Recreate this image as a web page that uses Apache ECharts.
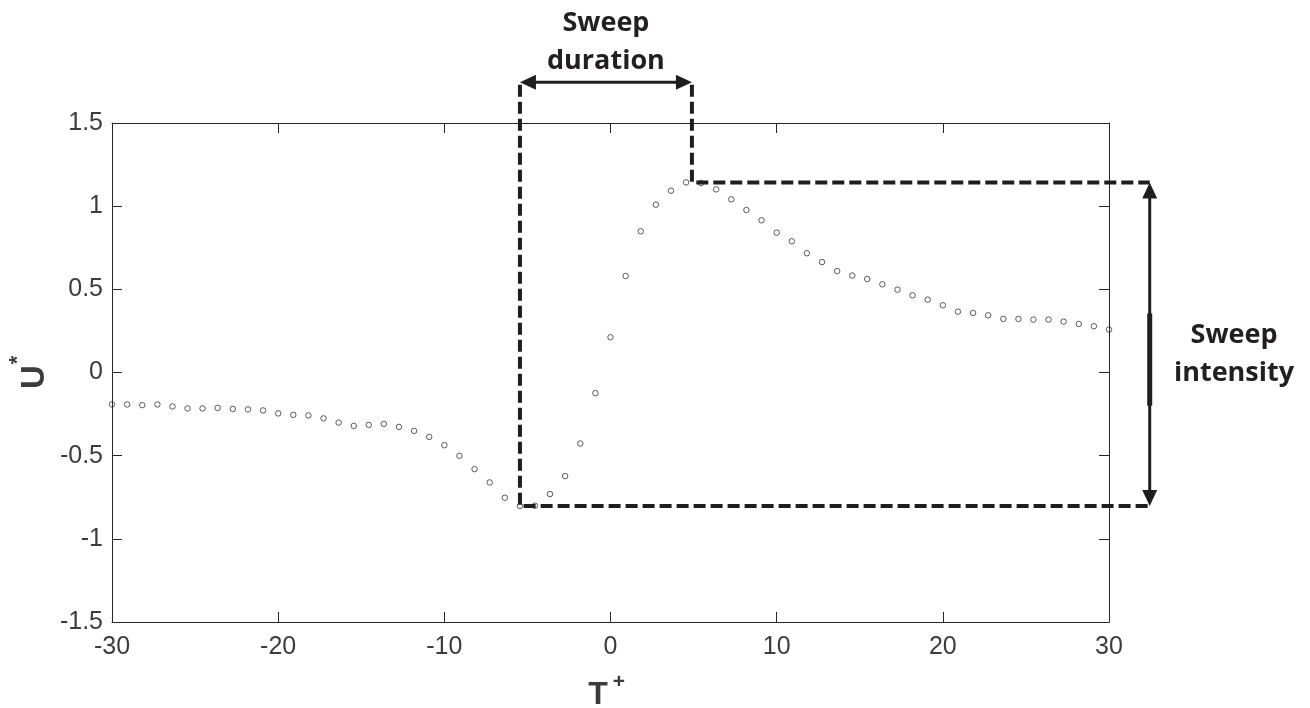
<!DOCTYPE html>
<html><head><meta charset="utf-8">
<script src="https://cdn.jsdelivr.net/npm/echarts@6/dist/echarts.min.js"></script>
<style>html,body{margin:0;padding:0;background:#fff}#c{width:1310px;height:708px}</style>
</head><body><div id="c"></div>
<script>
// Time axis values T+
const T = [-30,-29.09,-28.18,-27.27,-26.36,-25.45,-24.55,-23.64,-22.73,-21.82,-20.91,-20,-19.09,-18.18,-17.27,-16.36,-15.45,-14.55,-13.64,-12.73,-11.82,-10.91,-10,-9.09,-8.18,-7.27,-6.36,-5.45,-4.55,-3.64,-2.73,-1.82,-0.91,0,0.91,1.82,2.73,3.64,4.55,5.45,6.36,7.27,8.18,9.09,10,10.91,11.82,12.73,13.64,14.55,15.45,16.36,17.27,18.18,19.09,20,20.91,21.82,22.73,23.64,24.55,25.45,26.36,27.27,28.18,29.09,30];
// U* values
const U = [-0.192,-0.192,-0.196,-0.192,-0.204,-0.216,-0.216,-0.213,-0.219,-0.222,-0.228,-0.246,-0.255,-0.258,-0.276,-0.301,-0.321,-0.315,-0.309,-0.327,-0.351,-0.387,-0.437,-0.501,-0.581,-0.661,-0.753,-0.803,-0.801,-0.731,-0.623,-0.427,-0.124,0.212,0.580,0.849,1.009,1.093,1.143,1.139,1.101,1.041,0.977,0.915,0.841,0.789,0.717,0.664,0.610,0.583,0.562,0.530,0.498,0.464,0.438,0.404,0.366,0.358,0.344,0.322,0.322,0.318,0.318,0.306,0.292,0.278,0.258];
const xTickRange = [-30, 30, 10];
const yTickRange = [-1.5, 1.5, 0.5];
const labelDuration = ['Sweep', 'duration'];
const labelIntensity = ['Sweep', 'intensity'];

const chart = echarts.init(document.getElementById('c'));
const axisColor = '#262626';
const labelColor = '#3c3c3c';
const font = 'Liberation Sans, Arial, sans-serif';
function xAx(pos, show) {
  return {type:'value', min:xTickRange[0], max:xTickRange[1], interval:xTickRange[2], position:pos,
    axisLine:{show:true, onZero:false, lineStyle:{color:axisColor, width:1}},
    axisTick:{show:true, inside:true, length:10, lineStyle:{color:axisColor, width:1}},
    axisLabel:{show:show, color:labelColor, fontSize:25, fontFamily:font, margin:13},
    splitLine:{show:false}};
}
function yAx(pos, show) {
  return {type:'value', min:yTickRange[0], max:yTickRange[1], interval:yTickRange[2], position:pos,
    axisLine:{show:true, onZero:false, lineStyle:{color:axisColor, width:1}},
    axisTick:{show:true, inside:true, length:10, lineStyle:{color:axisColor, width:1}},
    axisLabel:{show:show, color:labelColor, fontSize:25, fontFamily:font, margin:9},
    splitLine:{show:false}};
}
chart.setOption({
  animation:false,
  backgroundColor:'#fff',
  grid:{left:112, top:123, width:997, height:499, containLabel:false},
  xAxis:[xAx('bottom', true), xAx('top', false)],
  yAxis:[yAx('left', true), yAx('right', false)],
  series:[{type:'scatter', xAxisIndex:0, yAxisIndex:0, data:T.map((t,i)=>[t,U[i]]),
    symbol:'circle', symbolSize:5.5,
    itemStyle:{color:'rgba(255,255,255,0)', borderColor:'#333333', borderWidth:1}}]
});

const P = (x,y)=>chart.convertToPixel({gridIndex:0},[x,y]);
const lo = Math.min(...U), hi = Math.max(...U);
const durL = T[U.indexOf(lo)], durR = 4.9;
const topY = 1.73, arrowY = 1.745, arrowX = 32.45;
const dashStyle = {stroke:'#1e1e1e', lineWidth:4, lineDash:[12,5], fill:null};
const a1 = P(durL, topY), a2 = P(durL, lo), a3 = P(arrowX, lo);
const b1 = P(durR, topY), b2 = P(durR, hi), b3 = P(arrowX, hi);
const hL = P(durL, arrowY), hR = P(durR, arrowY);
const vT = P(arrowX, hi), vB = P(arrowX, lo);
const ink = '#1e1e1e';
const hl = 16, hw = 7.5;
const vy1 = vT[1] + (vB[1]-vT[1])*0.405, vy2 = vT[1] + (vB[1]-vT[1])*0.69;
const txtStyle = (t)=>({text:t, fill:'#231f20', font:'bold 27px "Open Sans", sans-serif', align:'center', verticalAlign:'middle'});
chart.setOption({graphic:[
  {type:'polyline', shape:{points:[a1,a2,a3]}, style:dashStyle, z:100},
  {type:'polyline', shape:{points:[b1,b2,b3]}, style:dashStyle, z:100},
  {type:'line', shape:{x1:hL[0]+hl-2, y1:hL[1], x2:hR[0]-hl+2, y2:hR[1]}, style:{stroke:ink, lineWidth:3}, z:100},
  {type:'polygon', shape:{points:[[hL[0],hL[1]],[hL[0]+hl,hL[1]-hw],[hL[0]+hl,hL[1]+hw]]}, style:{fill:ink}, z:100},
  {type:'polygon', shape:{points:[[hR[0],hR[1]],[hR[0]-hl,hR[1]-hw],[hR[0]-hl,hR[1]+hw]]}, style:{fill:ink}, z:100},
  {type:'line', shape:{x1:vT[0], y1:vT[1]+hl-2, x2:vB[0], y2:vB[1]-hl+2}, style:{stroke:ink, lineWidth:3}, z:100},
  {type:'line', shape:{x1:vT[0], y1:vy1, x2:vB[0], y2:vy2}, style:{stroke:ink, lineWidth:5}, z:100},
  {type:'polygon', shape:{points:[[vT[0],vT[1]],[vT[0]-hw,vT[1]+hl],[vT[0]+hw,vT[1]+hl]]}, style:{fill:ink}, z:100},
  {type:'polygon', shape:{points:[[vB[0],vB[1]],[vB[0]-hw,vB[1]-hl],[vB[0]+hw,vB[1]-hl]]}, style:{fill:ink}, z:100},
  {type:'text', x:(hL[0]+hR[0])/2, y:23, style:txtStyle(labelDuration[0]), z:100},
  {type:'text', x:(hL[0]+hR[0])/2, y:61, style:txtStyle(labelDuration[1]), z:100},
  {type:'text', x:1234, y:335, style:txtStyle(labelIntensity[0]), z:100},
  {type:'text', x:1234, y:373, style:txtStyle(labelIntensity[1]), z:100},
  // axis names
  {type:'text', x:598, y:695, style:{text:'T', fill:labelColor, font:'bold 32px "Liberation Sans", Arial, sans-serif', align:'center', verticalAlign:'middle'}, z:100},
  {type:'text', x:619, y:682, style:{text:'+', fill:labelColor, font:'bold 21px "Liberation Sans", Arial, sans-serif', align:'center', verticalAlign:'middle'}, z:100},
  {type:'group', x:35, y:377, rotation:Math.PI/2, z:100, children:[
    {type:'text', x:0, y:0, style:{text:'U', fill:labelColor, font:'bold 33px "Liberation Sans", Arial, sans-serif', align:'center', verticalAlign:'middle'}},
    {type:'text', x:17, y:-17, style:{text:'*', fill:labelColor, font:'bold 22px "Liberation Sans", Arial, sans-serif', align:'center', verticalAlign:'middle'}}
  ]}
]});
</script></body></html>
